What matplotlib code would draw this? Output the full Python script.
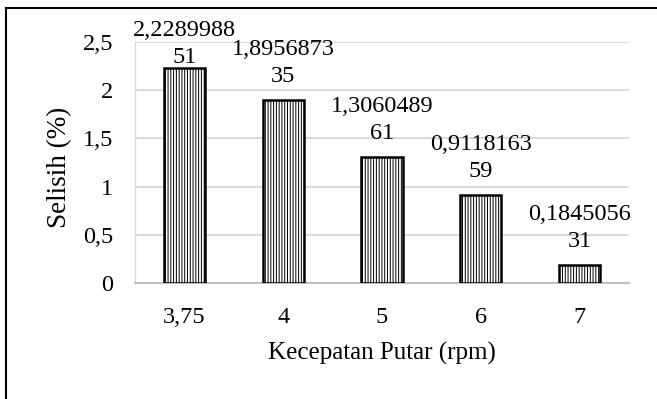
import matplotlib
matplotlib.use("Agg")
import matplotlib.pyplot as plt
from matplotlib.lines import Line2D

categories = ["3,75", "4", "5", "6", "7"]
values = [2.228998851, 1.895687335, 1.306048961, 0.911816359, 0.184505631]
yticks = [0, 0.5, 1, 1.5, 2, 2.5]
ytick_labels = ["0", "0,5", "1", "1,5", "2", "2,5"]

plt.rcParams['font.family'] = ['Liberation Serif', 'DejaVu Serif']
plt.rcParams['hatch.linewidth'] = 0.7
plt.rcParams['hatch.color'] = 'black'

W, H = 657, 399
fig = plt.figure(figsize=(W / 100, H / 100), dpi=100)
ax = fig.add_axes([135 / W, 1 - 283 / H, (629 - 135) / W, (283 - 42) / H])

x = list(range(len(categories)))
ax.bar(x, values, width=0.415, facecolor='white', edgecolor='black',
       linewidth=1.8, hatch='||||||', zorder=3)

ax.set_xlim(-0.5, len(categories) - 0.5)
ax.set_ylim(0, 2.5)
ax.set_yticks(yticks)
ax.set_yticklabels(ytick_labels)
ax.set_xticks(x)
ax.set_xticklabels(categories)
ax.tick_params(axis='both', length=0, labelsize=17.5)
ax.tick_params(axis='y', pad=15.5)
ax.tick_params(axis='x', pad=17)
ax.grid(axis='y', color='#d9d9d9', linewidth=1.5, zorder=0)
for s in ['top', 'right']:
    ax.spines[s].set_visible(False)
ax.spines['left'].set_color('#d9d9d9')
ax.spines['left'].set_linewidth(1.0)
ax.spines['bottom'].set_color('#bfbfbf')
ax.spines['bottom'].set_linewidth(1.5)

ax.set_xlabel("Kecepatan Putar (rpm)", fontsize=18)
ax.xaxis.label.set_va('center')
ax.xaxis.set_label_coords(0.5, -(353 - 283) / (283 - 42))
ax.set_ylabel("Selisih (%)", fontsize=19.5)
ax.yaxis.label.set_va('center')
ax.yaxis.set_label_coords(-(135 - 60) / (629 - 135), (283 - 167) / (283 - 42))

for i, v in enumerate(values):
    s = f"{v:.9f}".replace('.', ',')
    lab = s[:9] + "\n" + s[9:]
    off = 0 if v > 2.1 else 13
    ax.annotate(lab, (i, v), xytext=(0, off), textcoords='offset pixels',
                ha='center', va='bottom', fontsize=17.5, linespacing=1.38,
                annotation_clip=False, zorder=4)

fig.add_artist(Line2D([6 / W, 1], [1 - 7.5 / H, 1 - 7.5 / H], color='black',
                      linewidth=1.5, transform=fig.transFigure))
fig.add_artist(Line2D([6 / W, 6 / W], [0, 1 - 7.5 / H], color='black',
                      linewidth=1.5, transform=fig.transFigure))

fig.savefig("out.png", dpi=100)
